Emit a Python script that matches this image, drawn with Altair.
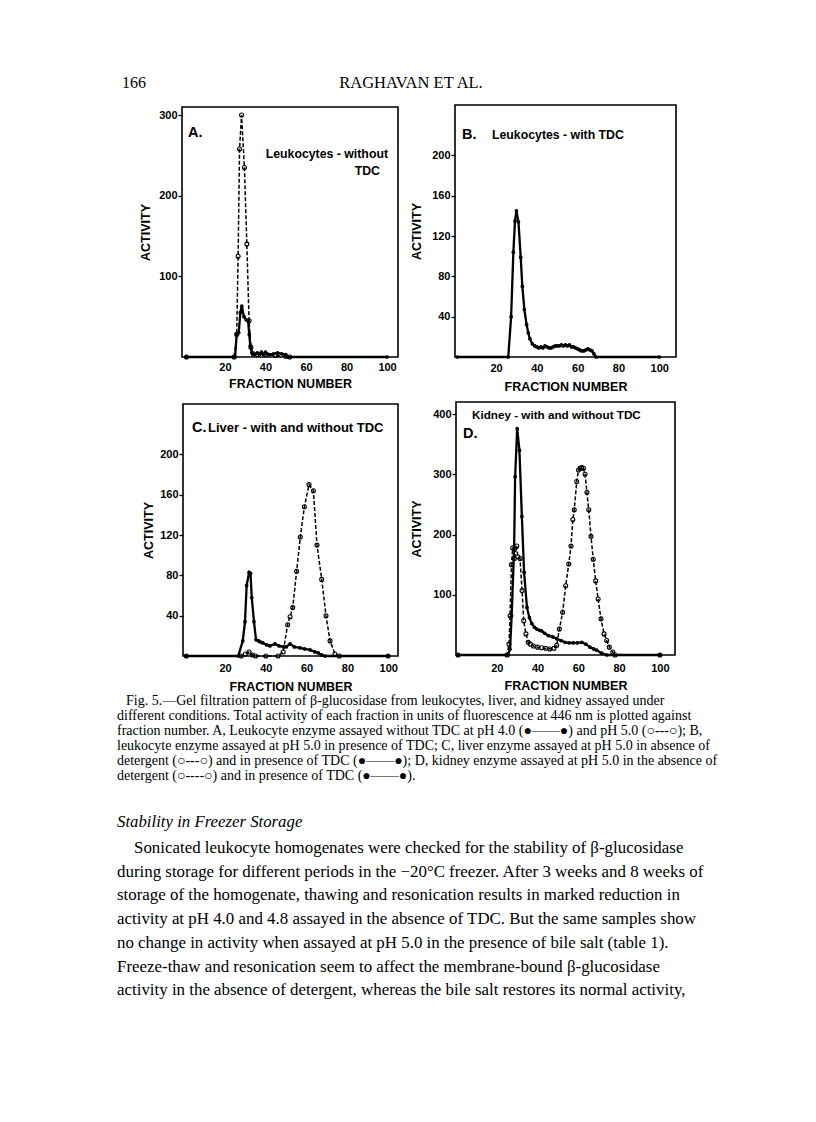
import altair as alt
import pandas as pd

# ---------------- data ----------------
X_TICKS = [20, 40, 60, 80, 100]

# Panel A: leukocytes without TDC
a5_f = [1, 24.5, 25.8, 26.5, 27.2, 28.2, 29.6, 30.8, 31.9, 32.8, 34, 36, 40, 45, 50, 52]
a5_v = [0, 0, 28, 125, 258, 300, 235, 140, 45, 12, 4, 3, 3, 2, 1, 0]
a4_f = [1, 25, 25.8, 26.8, 27.6, 28.3, 29.4, 30.5, 31.4, 32, 32.5, 33.3, 34.5,
        36, 37, 38, 39, 40, 42, 44, 46, 48, 50, 51, 100]
a4_v = [0, 0, 28, 30, 55, 63, 50, 46, 45, 28, 14, 5, 3,
        5, 3, 6, 3, 6, 3, 4, 5, 4, 3, 0, 0]
a_yticks = [100, 200, 300]

# Panel B: leukocytes with TDC
b_f = [1, 26, 27.4, 28.5, 29.3, 30, 31, 32.1, 32.9, 33.9, 35, 35.8, 36.6, 37.8, 39,
       40, 41, 42, 43, 44, 45, 46, 47, 48, 49, 50, 51, 52, 53, 54, 55, 56, 57, 58, 59,
       60, 61, 62, 63, 64, 65, 66, 67, 68, 69, 100]
b_v = [0, 0, 40, 104, 135, 145, 134, 99, 70, 47, 32, 24, 18, 13, 11,
       10, 9, 10, 9, 11, 10, 9, 9, 10, 11, 11, 11, 12, 11, 12, 11, 12, 10, 10, 9,
       8, 7, 6, 6, 7, 8, 7, 6, 3, 0, 0]
b_yticks = [40, 80, 120, 160, 200]

# Panel C: liver
c5_f = [1, 28, 30, 31.8, 33.5, 35, 40, 46, 48.5, 50.7, 51.9, 53.2, 55.1, 56.9, 58.9,
        61.2, 63.3, 65.1, 67.4, 69.5, 71.5, 73.9, 76, 100]
c5_v = [0, 0, 2, 4, 1, 0, 0, 0, 4, 31, 39, 48, 84, 118, 148,
        170, 164, 110, 76, 40, 15, 2, 0, 0]
c4_f = [1, 26.5, 28.7, 29.8, 30.6, 31.8, 32.5, 33.1, 34.2, 35.2, 36.5, 37.2, 38.5, 40.4, 42,
        44.5, 46.5, 48.6, 50, 51.9, 54, 56.8, 59, 61.7, 64, 65.7, 67.4, 69, 100]
c4_v = [0, 0, 15, 34, 70, 83, 82, 58, 34, 16, 15, 14, 13, 11, 10,
        12, 10, 9, 9, 12, 9, 8, 7, 6, 4, 3, 1, 0, 0]
c_yticks = [40, 80, 120, 160, 200]

# Panel D: kidney
d5_f = [1, 25, 26, 26.5, 27.2, 27.8, 28.6, 29.8, 30.3, 31.4, 32.4, 33.2, 34.3, 35.4, 36.5,
        38, 40, 42, 44, 46, 48, 49.4, 50.7, 52.3, 53.8, 55.3, 56.4, 57.3, 58, 59.2,
        60.1, 60.8, 61.6, 62.5, 63.3, 64.2, 65.1, 66.2, 67.3, 68.5, 69.7, 71.1, 72.6, 73.9,
        75.2, 76.9, 78, 100]
d5_v = [0, 0, 18, 65, 150, 178, 160, 181, 163, 160, 107, 57, 35, 21, 18,
        15, 13, 12, 11, 10, 11, 16, 43, 71, 115, 151, 181, 225, 241, 288,
        307, 310, 311, 310, 300, 270, 241, 197, 159, 123, 93, 60, 35, 24,
        13, 5, 0, 0]
d4_f = [1, 25.5, 26.5, 27.3, 28.5, 29, 30, 31.1, 32.3, 33.4, 34.8, 36, 37.2, 38.5, 39.6,
        41, 42, 43.5, 45.3, 47.5, 49.4, 51.5, 53.5, 55.5, 57.5, 59.5, 61.7, 63.7, 65.7, 67.5,
        69, 71.4, 74, 100]
d4_v = [0, 0, 10, 65, 178, 296, 376, 340, 230, 137, 79, 62, 52, 46, 43,
        41, 40, 36, 32, 30, 27, 24, 21, 20, 20, 20, 21, 18, 13, 10,
        8, 3, 0, 0]
d_yticks = [100, 200, 300, 400]

header_left = "166"
header_center = "RAGHAVAN ET AL."

caption = [
    "Fig. 5.\u2014Gel filtration pattern of \u03b2-glucosidase from leukocytes, liver, and kidney assayed under",
    "different conditions. Total activity of each fraction in units of fluorescence at 446 nm is plotted against",
    "fraction number. A, Leukocyte enzyme assayed without TDC at pH 4.0 (\u25cf\u2014\u2014\u25cf) and pH 5.0 (\u25cb---\u25cb); B,",
    "leukocyte enzyme assayed at pH 5.0 in presence of TDC; C, liver enzyme assayed at pH 5.0 in absence of",
    "detergent (\u25cb---\u25cb) and in presence of TDC (\u25cf\u2014\u2014\u25cf); D, kidney enzyme assayed at pH 5.0 in the absence of",
    "detergent (\u25cb----\u25cb) and in presence of TDC (\u25cf\u2014\u2014\u25cf).",
]
heading = "Stability in Freezer Storage"
body = [
    "Sonicated leukocyte homogenates were checked for the stability of \u03b2-glucosidase",
    "during storage for different periods in the \u221220\u00b0C freezer. After 3 weeks and 8 weeks of",
    "storage of the homogenate, thawing and resonication results in marked reduction in",
    "activity at pH 4.0 and 4.8 assayed in the absence of TDC. But the same samples show",
    "no change in activity when assayed at pH 5.0 in the presence of bile salt (table 1).",
    "Freeze-thaw and resonication seem to affect the membrane-bound \u03b2-glucosidase",
    "activity in the absence of detergent, whereas the bile salt restores its normal activity,",
]

# ---------------- layout ----------------
W, H = 800, 1060
M = 8
FONT = "Liberation Sans"
SERIF = "Liberation Serif"


def panel(series, xdom, ydom, box, yvals, xlab_pad, xtitle_pad, ytitle_pad):
    left, right, top, bottom = [v - M for v in box]
    xs = alt.Scale(domain=xdom, range=[left, right], nice=False, zero=False)
    ys = alt.Scale(domain=ydom, range=[bottom, top], nice=False, zero=False)
    frame_df = pd.DataFrame({"x0": [xdom[0]], "x1": [xdom[1]], "y0": [ydom[0]], "y1": [ydom[1]]})
    frame = alt.Chart(frame_df).mark_rect(fillOpacity=0, stroke="black", strokeWidth=1.6).encode(
        x=alt.X("x0:Q", scale=xs, axis=alt.Axis(
            orient="bottom", offset=bottom - H, values=X_TICKS, title="FRACTION NUMBER",
            domain=False, ticks=False, grid=False, labelPadding=xlab_pad,
            titlePadding=xtitle_pad, labelFlush=False, format="d")),
        x2="x1",
        y=alt.Y("y0:Q", scale=ys, axis=alt.Axis(
            orient="left", offset=-left, values=yvals, title="ACTIVITY",
            domain=False, tickSize=4, grid=False, labelPadding=1,
            titlePadding=ytitle_pad, format="d")),
        y2="y1",
    )
    layers = [frame]
    for f, v, dashed in series:
        df = pd.DataFrame({"f": f, "v": v})
        enc = dict(x=alt.X("f:Q", scale=xs, axis=None), y=alt.Y("v:Q", scale=ys, axis=None))
        if dashed:
            line = alt.Chart(df).mark_line(color="black", strokeWidth=1.5, strokeDash=[4, 2]).encode(**enc)
            pts = alt.Chart(df).mark_point(shape="circle", filled=False, color="black", size=16,
                                           strokeWidth=1.1, opacity=1).encode(**enc)
        else:
            line = alt.Chart(df).mark_line(color="black", strokeWidth=2.3).encode(**enc)
            pts = alt.Chart(df).mark_circle(color="black", size=14, opacity=1).encode(**enc)
        layers += [line, pts]
    return layers


pA = panel([(a5_f, a5_v, True), (a4_f, a4_v, False)], [-1.2, 105.4], [0, 310],
           (182, 398, 107, 357), a_yticks, 4, 5, 6)
pB = panel([(b_f, b_v, False)], [-0.1, 108.2], [0, 250],
           (455, 676, 105, 357), b_yticks, 5, 7.5, 8)
pC = panel([(c5_f, c5_v, True), (c4_f, c4_v, False)], [-0.6, 104.8], [0, 250],
           (183, 398, 404, 656), c_yticks, 6, 7, 4)
pD = panel([(d5_f, d5_v, True), (d4_f, d4_v, False)], [0, 107.4], [0, 420],
           (456, 675, 402, 655), d_yticks, 7, 6, 9)

one = pd.DataFrame({"k": [0]})


def txt(s, x, y, size, font=SERIF, align="left", weight="normal", style="normal"):
    return alt.Chart(one).mark_text(
        text=s, font=font, fontSize=size, align=align, baseline="middle",
        fontWeight=weight, fontStyle=style, color="black"
    ).encode(x=alt.value(x - M), y=alt.value(y - M))


texts = [
    txt(header_left, 122, 83, 16),
    txt(header_center, 411, 83, 16.5, align="center"),
    txt("A.", 188, 133, 14.5, font=FONT, weight="bold"),
    txt("Leukocytes - without", 388, 154, 12.3, font=FONT, align="right", weight="bold"),
    txt("TDC", 380, 171, 12.3, font=FONT, align="right", weight="bold"),
    txt("B.", 462, 135, 14.5, font=FONT, weight="bold"),
    txt("Leukocytes - with TDC", 492, 135, 12.3, font=FONT, weight="bold"),
    txt("C.", 192, 428, 14.5, font=FONT, weight="bold"),
    txt("Liver - with and without TDC", 208, 428, 13, font=FONT, weight="bold"),
    txt("Kidney - with and without TDC", 472, 415, 11.7, font=FONT, weight="bold"),
    txt("D.", 463, 434, 14.5, font=FONT, weight="bold"),
    txt(heading, 117, 822, 16.8, style="italic"),
]
for i, line in enumerate(caption):
    texts.append(txt(line, 126 if i == 0 else 117, 701 + 15 * i, 14))
for i, line in enumerate(body):
    texts.append(txt(line, 134 if i == 0 else 117, 848 + 23.7 * i, 16.9))

chart = alt.layer(*pA, *pB, *pC, *pD, *texts).resolve_scale(
    x="independent", y="independent"
).resolve_axis(
    x="independent", y="independent"
).properties(
    width=W, height=H, padding=0, autosize=alt.AutoSizeParams(type="none")
).configure_view(strokeWidth=0).configure_axis(
    labelFont=FONT, titleFont=FONT, labelFontSize=11, labelFontWeight="bold",
    titleFontSize=12.5, titleFontWeight="bold", labelColor="black", titleColor="black",
    tickColor="black", tickWidth=1.3
)

chart.save("out.html", embed_options={"renderer": "svg", "actions": False})
